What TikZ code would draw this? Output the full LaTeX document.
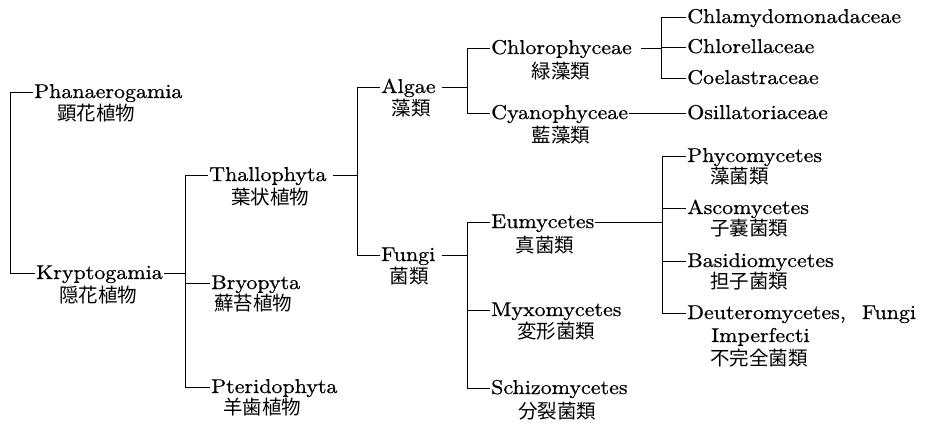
\documentclass[tikz,border=0pt]{standalone}
\usepackage{fontspec}
\setmainfont{lmroman10-regular.otf}[FakeStretch=1.1,FakeBold=0.7]
\newfontfamily\cjk{Noto Sans CJK JP}
\begin{document}
\begin{tikzpicture}[x=1pt,y=-1pt,
  lat/.style={font=\fontsize{20}{24}\selectfont, inner xsep=1pt, inner ysep=0pt,
              text height=14pt, text depth=2pt, anchor=west},
  jp/.style={font=\cjk\fontsize{19.5}{23}\selectfont, inner sep=0pt},
  jpl/.style={jp, anchor=west},
  ln/.style={line width=0.9pt}]
\useasboundingbox (0,0) rectangle (925,429);

% bar positions
\coordinate (b0) at (10,0);
\coordinate (b1) at (185,0);
\coordinate (b2) at (357,0);
\coordinate (b3) at (467,0);
\coordinate (b5) at (661,0);
\coordinate (b6) at (662,0);

% level 1
\node[lat] (phan) at (33,92) {Phanaerogamia};
\node[jp] (phanj) at (96,113) {顕花植物};
\node[lat] (kryp) at (35,273) {Kryptogamia};
\node[jp] (krypj) at (98,295) {隠花植物};

% level 2
\node[lat] (thal) at (208,175) {Thallophyta};
\node[jp] (thalj) at (270,197) {葉状植物};
\node[lat] (bryo) at (210,283) {Bryopyta};
\node[jp] (bryoj) at (253,303) {蘚苔植物};
\node[lat] (pter) at (210,387) {Pteridophyta};
\node[jp] (pterj) at (262,407) {羊歯植物};

% level 3
\node[lat] (alg) at (380,87) {Algae};
\node[jp] (algj) at (411,108) {藻類};
\node[lat] (fun) at (380,255) {Fungi};
\node[jp] (funj) at (409,276) {菌類};

% level 4
\node[lat] (chl) at (490,48) {Chlorophyceae};
\node[jp] (chlj) at (561,71) {緑藻類};
\node[lat] (cya) at (490,113) {Cyanophyceae};
\node[jp] (cyaj) at (561,135) {藍藻類};
\node[lat] (eum) at (490,222) {Eumycetes};
\node[jp] (eumj) at (545,245) {真菌類};
\node[lat] (myx) at (490,310) {Myxomycetes};
\node[jp] (myxj) at (556,331) {変形菌類};
\node[lat] (sch) at (490,388) {Schizomycetes};
\node[jp] (schj) at (557,411) {分裂菌類};

% level 5
\node[lat] (cmy) at (686,17) {Chlamydomonadaceae};
\node[lat] (cll) at (686,47) {Chlorellaceae};
\node[lat] (coe) at (686,78) {Coelastraceae};
\node[lat] (osi) at (686,113) {Osillatoriaceae};
\node[lat] (phy) at (686,156) {Phycomycetes};
\node[jpl] (phyj) at (710,176) {藻菌類};
\node[lat] (asc) at (686,208) {Ascomycetes};
\node[jpl] (ascj) at (710,228) {子嚢菌類};
\node[lat] (bas) at (686,261) {Basidiomycetes};
\node[jpl] (basj) at (710,281) {担子菌類};
\node[lat] (deu) at (686,313) {Deuteromycetes,\hspace{0.8em}Fungi};
\node[lat] (imp) at (710,336) {Imperfecti};
\node[jpl] (deuj) at (710,358) {不完全菌類};

% brackets
\draw[ln] (phan.west) -- (phan.west -| b0) |- (kryp.west);
\draw[ln] (thal.west) -- (thal.west -| b1) |- (pter.west);
\draw[ln] (bryo.west) -- (bryo.west -| b1);
\draw[ln] (kryp.east) -- (kryp.east -| b1);

\draw[ln] (alg.west) -- (alg.west -| b2) |- (fun.west);
\draw[ln] ([xshift=5pt]thal.east) -- (thal.east -| b2);

\draw[ln] (chl.west) -- (chl.west -| b3) |- (cya.west);
\draw[ln] ([xshift=5pt]alg.east) -- (alg.east -| b3);

\draw[ln] (eum.west) -- (eum.west -| b3) |- (sch.west);
\draw[ln] (myx.west) -- (myx.west -| b3);
\draw[ln] ([xshift=5pt]fun.east) -- (fun.east -| b3);

\draw[ln] (cmy.west) -- (cmy.west -| b5) |- (coe.west);
\draw[ln] (cll.west) -- (cll.west -| b5);
\draw[ln] ([xshift=8pt]chl.east) -- (chl.east -| b5);

\draw[ln] (cya.east) -- (osi.west);

\draw[ln] (phy.west) -- (phy.west -| b6) |- (deu.west);
\draw[ln] (asc.west) -- (asc.west -| b6);
\draw[ln] (bas.west) -- (bas.west -| b6);
\draw[ln] (eum.east) -- (eum.east -| b6);
\end{tikzpicture}
\end{document}
